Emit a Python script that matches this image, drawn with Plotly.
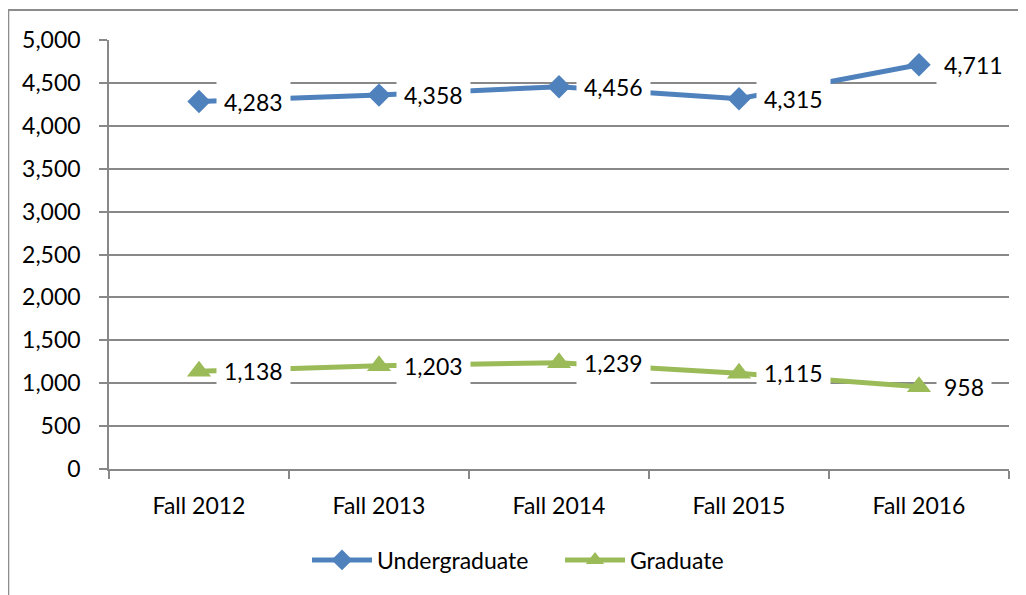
import plotly.graph_objects as go

categories = ["Fall 2012", "Fall 2013", "Fall 2014", "Fall 2015", "Fall 2016"]
undergrad = [4283, 4358, 4456, 4315, 4711]
graduate = [1138, 1203, 1239, 1115, 958]
y_ticks = [0, 500, 1000, 1500, 2000, 2500, 3000, 3500, 4000, 4500, 5000]

BLUE = "#4F81BD"
GREEN = "#9BBB59"
GRID = "#888888"
FONT = "Lato"
FS = 23

fig = go.Figure()
fig.add_trace(go.Scatter(x=categories, y=undergrad, name="Undergraduate", mode="lines+markers",
                         line=dict(color=BLUE, width=5),
                         marker=dict(symbol="diamond", size=18, color=BLUE)))
fig.add_trace(go.Scatter(x=categories, y=graduate, name="Graduate", mode="lines+markers",
                         line=dict(color=GREEN, width=5),
                         marker=dict(symbol="triangle-up", size=21, color=GREEN)))

annotations = []
for series in (undergrad, graduate):
    for c, v in zip(categories, series):
        annotations.append(dict(x=c, y=v, xref="x", yref="y", text=f"{v:,}", showarrow=False,
                                xanchor="left", yanchor="middle", xshift=17, yshift=0,
                                bgcolor="white", borderpad=7,
                                font=dict(family=FONT, size=FS, color="#000000")))

fig.update_layout(
    width=1026, height=595,
    margin=dict(l=101, r=25, t=32, b=134),
    paper_bgcolor="white", plot_bgcolor="white",
    font=dict(family=FONT, size=FS, color="#000000"),
    showlegend=True,
    legend=dict(orientation="h", x=0.22, xanchor="left", y=-0.212, yanchor="middle",
                font=dict(family=FONT, size=FS), entrywidth=178, entrywidthmode="pixels",
                itemwidth=60, tracegroupgap=0),
    annotations=annotations,
    shapes=[
        dict(type="line", xref="paper", yref="paper", x0=-0.1133, x1=1.03, y0=1.07, y1=1.07,
             line=dict(color="#8C8C8C", width=2)),
        dict(type="line", xref="paper", yref="paper", x0=-0.1122, x1=-0.1122, y0=1.07, y1=-0.3,
             line=dict(color="#8C8C8C", width=2.5)),
    ],
)
fig.update_xaxes(type="category", showgrid=False, showline=True, linecolor=GRID, linewidth=1.5,
                 ticks="outside", ticklen=8, tickcolor=GRID, tickwidth=1.5, tickson="boundaries",
                 range=[-0.5, 4.5], tickfont=dict(family=FONT, size=FS), ticklabelstandoff=16)
fig.update_yaxes(range=[0, 5000], tickvals=y_ticks, ticktext=[f"{t:,}" for t in y_ticks],
                 showgrid=True, gridcolor=GRID, gridwidth=1.5, showline=True, linecolor=GRID,
                 linewidth=1.5, ticks="outside", ticklen=8, tickcolor=GRID, tickwidth=1.5,
                 zeroline=False, tickfont=dict(family=FONT, size=FS), ticklabelstandoff=14)

fig.write_html("out.html")
